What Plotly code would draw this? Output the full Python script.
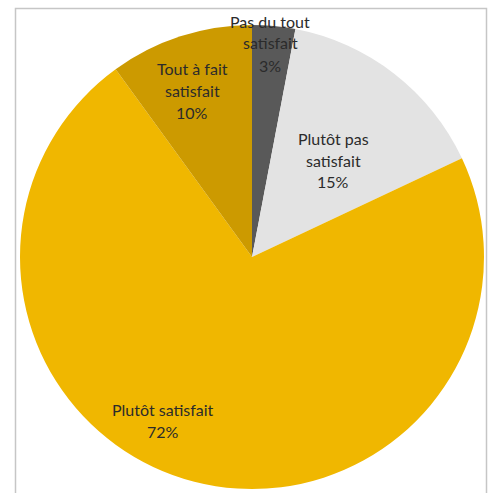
import plotly.graph_objects as go

# Satisfaction survey results (percent)
categories = ["Pas du tout satisfait", "Plutôt pas satisfait", "Plutôt satisfait", "Tout à fait satisfait"]
values = [3, 15, 72, 10]
colors = ["#595959", "#E3E3E3", "#F0B700", "#CC9A00"]

# Label text lines shown on each slice (category wrapped + percentage)
label_lines = [
    ["Pas du tout", "satisfait"],
    ["Plutôt pas", "satisfait"],
    ["Plutôt satisfait"],
    ["Tout à fait", "satisfait"],
]
# Label anchor (x, y) in paper pixels for each slice's text block (centre of first line)
label_anchor_px = [(270, 21), (333, 138), (163, 409), (192, 68)]

W, H = 488, 493
LINE_H = 22

fig = go.Figure(
    go.Pie(
        labels=categories,
        values=values,
        marker=dict(colors=colors, line=dict(width=0)),
        sort=False,
        direction="clockwise",
        rotation=0,
        textinfo="none",
        hoverinfo="label+percent",
        domain=dict(x=[20 / W, 484 / W], y=[1 - 489 / H, 1 - 25 / H]),
        showlegend=False,
    )
)

total = sum(values)
annotations = []
for lines, v, (ax, ay) in zip(label_lines, values, label_anchor_px):
    pct = f"{round(100 * v / total)}%"
    for i, txt in enumerate(lines + [pct]):
        annotations.append(
            dict(
                x=ax / W,
                y=1 - (ay + i * LINE_H) / H,
                xref="paper",
                yref="paper",
                text=txt,
                showarrow=False,
                xanchor="center",
                yanchor="middle",
                font=dict(family="Lato, Carlito, sans-serif", size=16, color="#2b2b2b"),
            )
        )

fig.update_layout(
    width=W,
    height=H,
    margin=dict(l=0, r=0, t=0, b=0),
    paper_bgcolor="white",
    plot_bgcolor="white",
    annotations=annotations,
    shapes=[
        dict(
            type="rect",
            xref="paper",
            yref="paper",
            x0=15.5 / W,
            x1=486.5 / W,
            y0=-0.05,
            y1=1 - 8.5 / H,
            line=dict(color="#C6C6C6", width=1.5),
            fillcolor="rgba(0,0,0,0)",
            layer="below",
        )
    ],
)

fig.write_html("out.html")
